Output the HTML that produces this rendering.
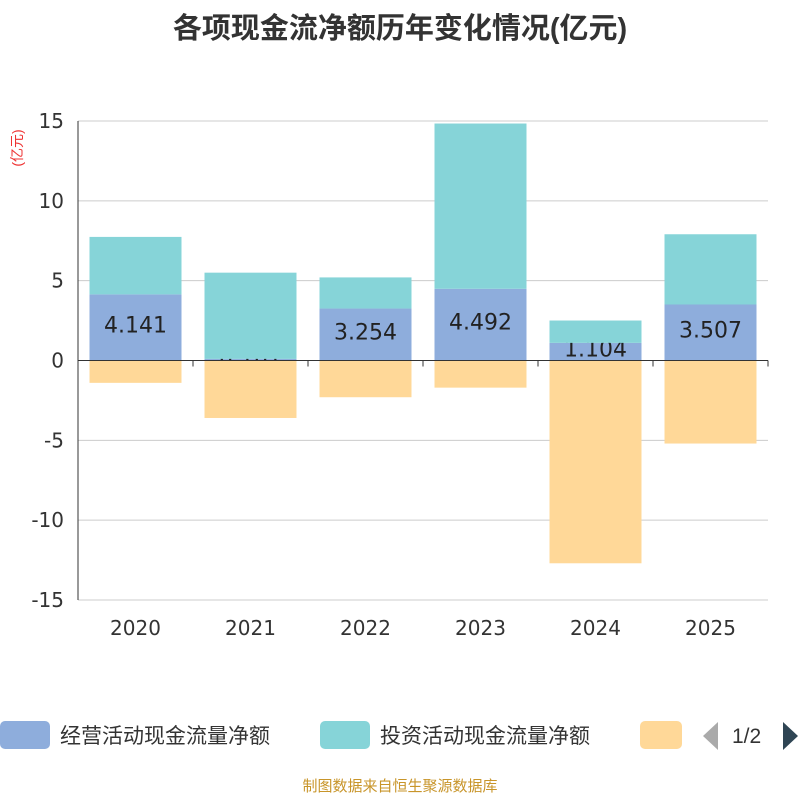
<!DOCTYPE html>
<html><head><meta charset="utf-8"><style>
body{margin:0;background:#fff;width:800px;height:800px;overflow:hidden;font-family:"Liberation Sans","Noto Sans CJK SC",sans-serif}
</style></head><body>
<svg id="c" width="800" height="800" xmlns="http://www.w3.org/2000/svg">
<text x="400" y="38" text-anchor="middle" font-size="29" font-weight="bold" fill="#333" font-family="Liberation Sans,Noto Sans CJK SC,sans-serif">各项现金流净额历年变化情况(亿元)</text>
<text x="0" y="0" transform="translate(22,148) rotate(-90)" text-anchor="middle" font-size="14" fill="#e33" font-family="Liberation Sans,Noto Sans CJK SC,sans-serif">(亿元)</text>
<g id="grid"></g><g id="bars"></g><g id="axes"></g>
<g font-family="Liberation Sans,Noto Sans CJK SC,sans-serif" font-size="21" fill="#333">
<rect x="0" y="721" width="50" height="28" rx="5" fill="#8eaddc"/>
<text x="60" y="743">经营活动现金流量净额</text>
<rect x="320" y="721" width="50" height="28" rx="5" fill="#86d4d8"/>
<text x="380" y="743">投资活动现金流量净额</text>
<rect x="640" y="721" width="42" height="28" rx="5" fill="#ffd898"/>
<polygon points="718,722 718,750 703,736" fill="#aaa"/>
<text x="732" y="743">1/2</text>
<polygon points="783,722 783,750 798,736" fill="#2f4554"/>
</g>
<text x="400" y="791" text-anchor="middle" font-size="15" fill="#c8952a" font-family="Liberation Sans,Noto Sans CJK SC,sans-serif">制图数据来自恒生聚源数据库</text>
</svg>
<script>
const categories=["2020","2021","2022","2023","2024","2025"];
const operating=[4.141,0.101,3.254,4.492,1.104,3.507];
const investing=[3.6,5.4,1.95,10.35,1.4,4.4];
const financing=[-1.4,-3.6,-2.3,-1.7,-12.7,-5.2];
const yTicks=[15,10,5,0,-5,-10,-15];
const NS="http://www.w3.org/2000/svg";
const L=78,R=768,T=121,B=600;
const FONT="DejaVu Sans,Liberation Sans,sans-serif";
const y=v=>T+(15-v)/30*(B-T);
const bw=(R-L)/categories.length;
const x=i=>L+i*bw;
function mk(tag,at,parent){const e=document.createElementNS(NS,tag);for(const k in at)e.setAttribute(k,at[k]);document.getElementById(parent).appendChild(e);return e;}
yTicks.forEach(t=>{
 const g=mk('line',{x1:L,x2:R,y1:y(t),y2:y(t),stroke:'#ccc','stroke-width':1},'grid');
 
 
 const tx=mk('text',{x:L-14,y:y(t)+7,'text-anchor':'end','font-size':20,fill:'#333','font-family':FONT},'axes');
 tx.textContent=t;
 
 
});
const ax=mk('line',{x1:L,x2:R,y1:y(0),y2:y(0),stroke:'#333','stroke-width':1},'axes');


const yl=mk('line',{x1:L,x2:L,y1:T,y2:B,stroke:'#333','stroke-width':1},'axes');


for(let i=0;i<=categories.length;i++){
 const tk=mk('line',{x1:x(i),x2:x(i),y1:y(0),y2:y(0)+6,stroke:'#333'},'axes');
 
 
}
categories.forEach((c,i)=>{
 const cx=x(i)+bw/2, w=92, bx=cx-w/2;
 const o=operating[i], v=investing[i], f=financing[i];
 const r1=mk('rect',{x:bx,y:y(o),width:w,height:y(0)-y(o),fill:'#8eaddc'},'bars');
 
 
 const lb=mk('text',{x:cx,y:(y(o)+y(0))/2+5,'text-anchor':'middle','font-size':22,fill:'#222','font-family':FONT},'bars');
 lb.textContent=o.toFixed(3);
 
 
 const r2=mk('rect',{x:bx,y:y(o+v),width:w,height:y(o)-y(o+v),fill:'#86d4d8'},'bars');
 
 
 const r3=mk('rect',{x:bx,y:y(0),width:w,height:y(f)-y(0),fill:'#ffd898'},'bars');
 
 
 const xt=mk('text',{x:cx,y:635,'text-anchor':'middle','font-size':20,fill:'#333','font-family':FONT},'axes');
 xt.textContent=c;
 
 
});
</script>
</body></html>
